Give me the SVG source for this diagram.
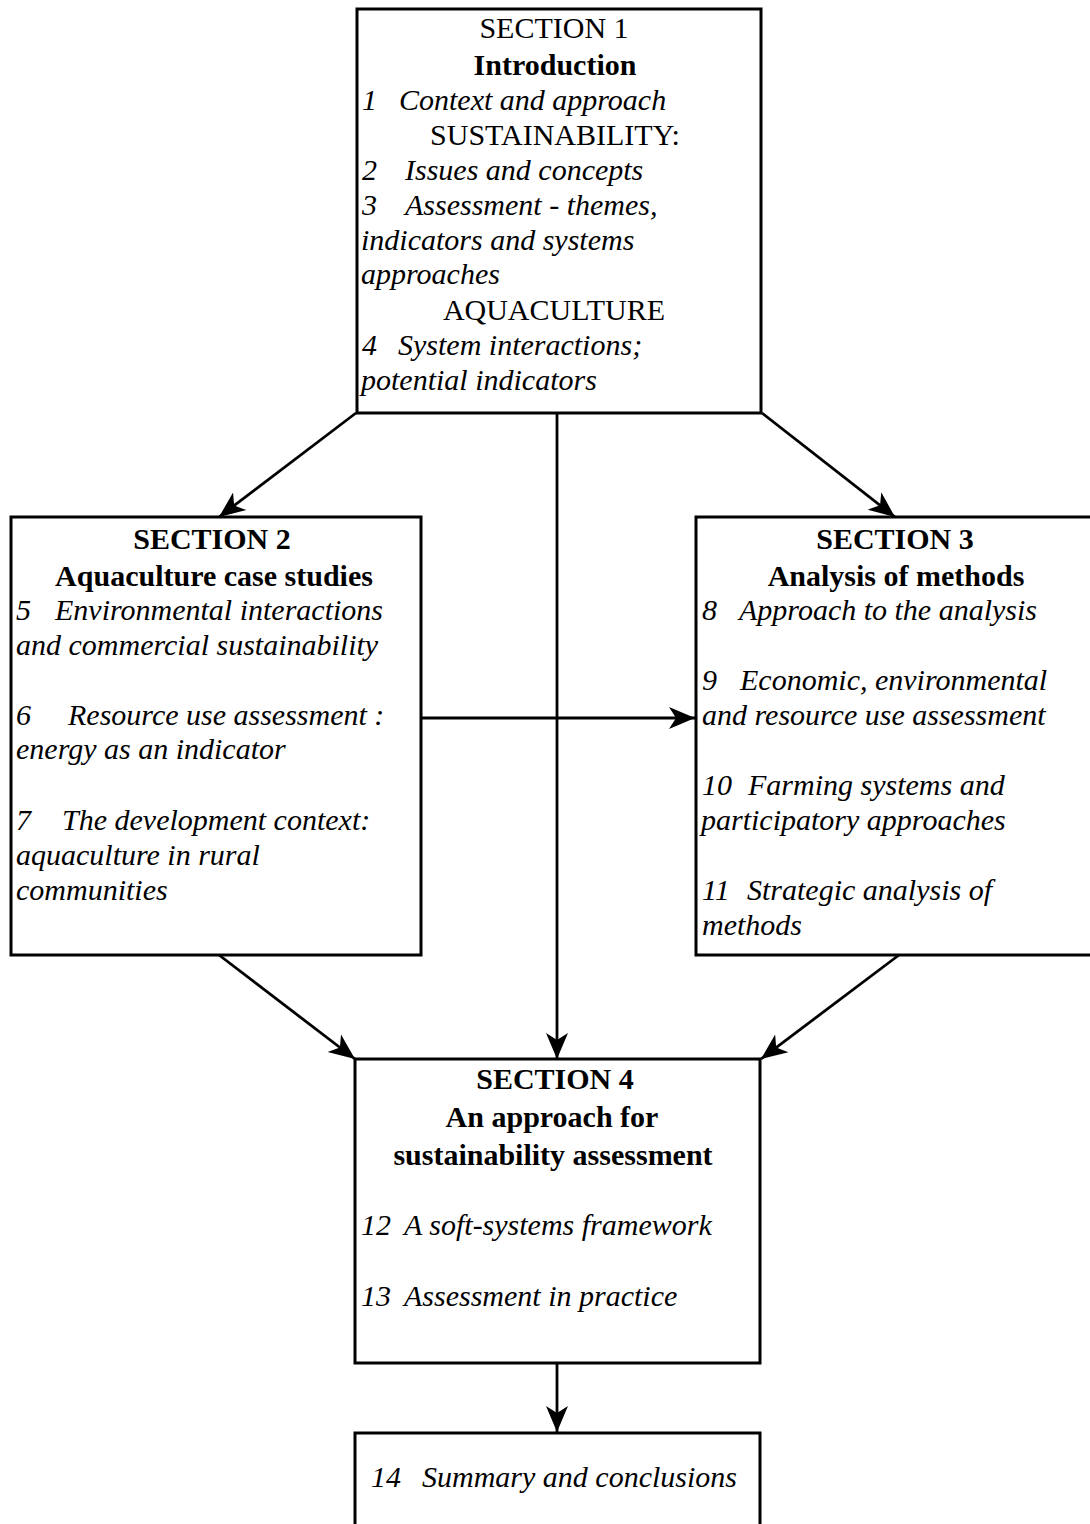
<svg xmlns="http://www.w3.org/2000/svg" width="1090" height="1524" viewBox="0 0 1090 1524">
  <style>
    .box { fill: #ffffff; stroke: #000000; stroke-width: 3; }
    .link { fill: none; stroke: #000000; stroke-width: 2.8; }
    text { font-family: "Liberation Serif", "Times New Roman", serif; font-size: 30px; fill: #000000; }
    .c { text-anchor: middle; }
    .b { font-weight: bold; }
    .i { font-style: italic; }
  </style>
  <defs>
    <marker id="arrow" markerUnits="userSpaceOnUse" markerWidth="28" markerHeight="24" viewBox="0 0 28 24" refX="26" refY="12" orient="auto">
      <path d="M0,1 L26,12 L0,23 L7,12 z" fill="#000000"/>
    </marker>
  </defs>

  <rect width="1090" height="1524" fill="#ffffff"/>

  <!-- connectors -->
  <g id="connectors">
    <line class="link" x1="356" y1="413" x2="219" y2="517" marker-end="url(#arrow)"/>
    <line class="link" x1="762" y1="413" x2="895" y2="517" marker-end="url(#arrow)"/>
    <line class="link" x1="557" y1="413" x2="557" y2="1059" marker-end="url(#arrow)"/>
    <line class="link" x1="421" y1="718" x2="695" y2="718" marker-end="url(#arrow)"/>
    <line class="link" x1="219" y1="955" x2="355" y2="1059" marker-end="url(#arrow)"/>
    <line class="link" x1="899" y1="955" x2="761" y2="1059" marker-end="url(#arrow)"/>
    <line class="link" x1="557" y1="1363" x2="557" y2="1432" marker-end="url(#arrow)"/>
  </g>

  <!-- Section 1 -->
  <g id="section1">
    <rect class="box" x="357" y="9" width="404" height="404"/>
    <text class="c" x="554" y="38">SECTION 1</text>
    <text class="c b" x="555" y="75">Introduction</text>
    <text class="i" x="362" y="110">1</text>
    <text class="i" x="399" y="110">Context and approach</text>
    <text class="c" x="555" y="145">SUSTAINABILITY:</text>
    <text class="i" x="362" y="180">2</text>
    <text class="i" x="405" y="180">Issues and concepts</text>
    <text class="i" x="362" y="215">3</text>
    <text class="i" x="405" y="215">Assessment - themes,</text>
    <text class="i" x="361" y="250">indicators and systems</text>
    <text class="i" x="361" y="284">approaches</text>
    <text class="c" x="554" y="320">AQUACULTURE</text>
    <text class="i" x="362" y="355">4</text>
    <text class="i" x="398" y="355">System interactions;</text>
    <text class="i" x="361" y="390">potential indicators</text>
  </g>

  <!-- Section 2 -->
  <g id="section2">
    <rect class="box" x="11" y="517" width="410" height="438"/>
    <text class="c b" x="212" y="549">SECTION 2</text>
    <text class="c b" x="214" y="586">Aquaculture case studies</text>
    <text class="i" x="16" y="620">5</text>
    <text class="i" x="55" y="620">Environmental interactions</text>
    <text class="i" x="16" y="655">and commercial sustainability</text>
    <text class="i" x="16" y="725">6</text>
    <text class="i" x="68" y="725">Resource use assessment :</text>
    <text class="i" x="16" y="759">energy as an indicator</text>
    <text class="i" x="16" y="830">7</text>
    <text class="i" x="62" y="830">The development context:</text>
    <text class="i" x="16" y="865">aquaculture in rural</text>
    <text class="i" x="16" y="900">communities</text>
  </g>

  <!-- Section 3 -->
  <g id="section3">
    <rect class="box" x="696" y="517" width="400" height="438"/>
    <text class="c b" x="895" y="549">SECTION 3</text>
    <text class="c b" x="896" y="586">Analysis of methods</text>
    <text class="i" x="702" y="620">8</text>
    <text class="i" x="739" y="620">Approach to the analysis</text>
    <text class="i" x="702" y="690">9</text>
    <text class="i" x="740" y="690">Economic, environmental</text>
    <text class="i" x="702" y="725">and resource use assessment</text>
    <text class="i" x="702" y="795">10</text>
    <text class="i" x="748" y="795">Farming systems and</text>
    <text class="i" x="701" y="830">participatory approaches</text>
    <text class="i" x="702" y="900">11</text>
    <text class="i" x="747" y="900">Strategic analysis of</text>
    <text class="i" x="702" y="935">methods</text>
  </g>

  <!-- Section 4 -->
  <g id="section4">
    <rect class="box" x="355" y="1059" width="405" height="304"/>
    <text class="c b" x="555" y="1089">SECTION 4</text>
    <text class="c b" x="552" y="1127">An approach for</text>
    <text class="c b" x="553" y="1165">sustainability assessment</text>
    <text class="i" x="361" y="1235">12</text>
    <text class="i" x="404" y="1235">A soft-systems framework</text>
    <text class="i" x="361" y="1306">13</text>
    <text class="i" x="404" y="1306">Assessment in practice</text>
  </g>

  <!-- Summary -->
  <g id="summary">
    <rect class="box" x="355" y="1433" width="405" height="110"/>
    <text class="i" x="371" y="1487">14</text>
    <text class="i" x="422" y="1487">Summary and conclusions</text>
  </g>
</svg>
